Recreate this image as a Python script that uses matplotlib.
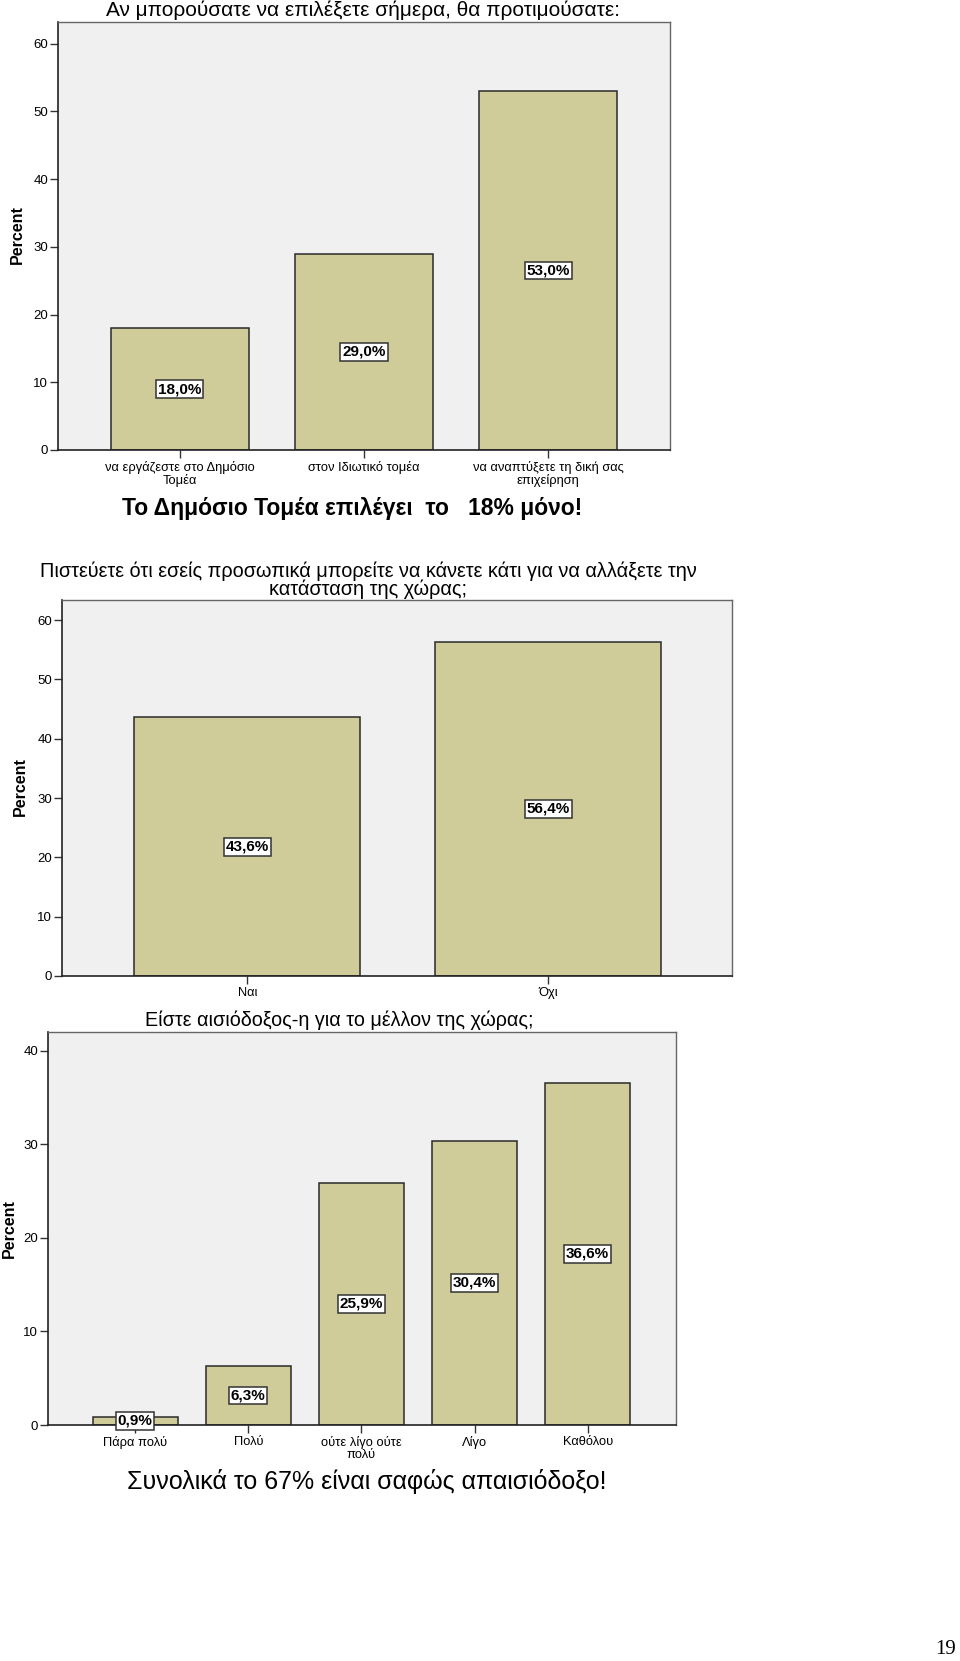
import matplotlib
matplotlib.use('Agg')
import matplotlib.pyplot as plt

plt.rcParams['font.family'] = ['Liberation Sans', 'DejaVu Sans']

W, H = 960, 1661

# data
q1_title = 'Αν μπορούσατε να επιλέξετε σήμερα, θα προτιμούσατε:'
q1_labels = ['να εργάζεστε στο Δημόσιο\nΤομέα', 'στον Ιδιωτικό τομέα',
             'να αναπτύξετε τη δική σας\nεπιχείρηση']
q1_values = [18.0, 29.0, 53.0]

q2_title = 'Πιστεύετε ότι εσείς προσωπικά μπορείτε να κάνετε κάτι για να αλλάξετε την\nκατάσταση της χώρας;'
q2_labels = ['Ναι', 'Όχι']
q2_values = [43.6, 56.4]

q3_title = 'Είστε αισιόδοξος-η για το μέλλον της χώρας;'
q3_labels = ['Πάρα πολύ', 'Πολύ', 'ούτε λίγο ούτε\nπολύ', 'Λίγο', 'Καθόλου']
q3_values = [0.9, 6.3, 25.9, 30.4, 36.6]

BAR = '#cfcc9a'
BG = '#f0f0f0'


def px_axes(fig, left, right, top, bottom):
    return fig.add_axes([left / W, (H - bottom) / H, (right - left) / W, (bottom - top) / H])


def px_text(fig, x, y, s, **kw):
    fig.text(x / W, (H - y) / H, s, **kw)


def bar_chart(ax, labels, values, ymax, yticks, xlim):
    x = list(range(len(values)))
    ax.set_facecolor(BG)
    ax.bar(x, values, width=0.75, color=BAR, edgecolor='#2a2a2a', linewidth=1.1, zorder=2)
    for xi, v in zip(x, values):
        ax.text(xi, v / 2, f'{v:.1f}%'.replace('.', ','), ha='center', va='center',
                fontsize=11, fontweight='bold', zorder=4,
                bbox=dict(boxstyle='square,pad=0.12', fc='white', ec='#333333', lw=1.1))
    ax.set_xlim(*xlim)
    ax.set_ylim(0, ymax)
    ax.set_yticks(yticks)
    ax.set_xticks(x)
    ax.set_xticklabels(labels, fontsize=9.3, linespacing=0.95)
    ax.tick_params(axis='y', direction='out', length=6, width=1, labelsize=9.5, pad=1, color='#333333')
    ax.tick_params(axis='x', direction='out', length=6, width=1, pad=2, color='#333333')
    for s in ['left', 'bottom']:
        ax.spines[s].set_color('#222222')
        ax.spines[s].set_linewidth(1.2)
    for s in ['top', 'right']:
        ax.spines[s].set_color('#666666')
        ax.spines[s].set_linewidth(1.0)


fig = plt.figure(figsize=(W / 100, H / 100), dpi=100)
fig.patch.set_facecolor('white')

ax1 = px_axes(fig, 58, 670, 22, 450)
bar_chart(ax1, q1_labels, q1_values, 63.2, [0, 10, 20, 30, 40, 50, 60], (-0.66, 2.66))
px_text(fig, 363, 10, q1_title, ha='center', va='center', fontsize=15)
px_text(fig, 17, 235, 'Percent', ha='center', va='center', rotation=90, fontsize=11.5, fontweight='bold')
px_text(fig, 352, 509, 'Το Δημόσιο Τομέα επιλέγει  το   18% μόνο!', ha='center', va='center',
        fontsize=16.5, fontweight='bold')

ax2 = px_axes(fig, 62, 732, 600, 976)
bar_chart(ax2, q2_labels, q2_values, 63.4, [0, 10, 20, 30, 40, 50, 60], (-0.615, 1.61))
px_text(fig, 368, 580, q2_title, ha='center', va='center', fontsize=14.3, linespacing=0.9)
px_text(fig, 20, 787, 'Percent', ha='center', va='center', rotation=90, fontsize=11.5, fontweight='bold')

ax3 = px_axes(fig, 48, 676, 1032, 1425)
bar_chart(ax3, q3_labels, q3_values, 42.0, [0, 10, 20, 30, 40], (-0.77, 4.78))
px_text(fig, 339, 1020, q3_title, ha='center', va='center', fontsize=14.2)
px_text(fig, 9, 1229, 'Percent', ha='center', va='center', rotation=90, fontsize=11.5, fontweight='bold')
px_text(fig, 367, 1481, 'Συνολικά το 67% είναι σαφώς απαισιόδοξο!', ha='center', va='center',
        fontsize=18)

px_text(fig, 946, 1650, '19', ha='center', va='center', fontsize=15,
        family=['Liberation Serif', 'DejaVu Serif'])

fig.savefig('out.png', dpi=100, facecolor='white')
